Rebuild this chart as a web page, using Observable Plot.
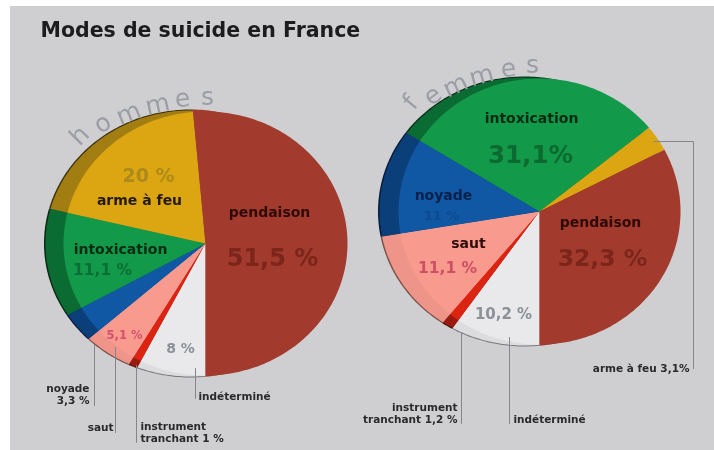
<!DOCTYPE html>
<html><head><meta charset="utf-8">
<script src="https://cdn.jsdelivr.net/npm/d3@7"></script>
<script src="https://cdn.jsdelivr.net/npm/@observablehq/plot@0.6"></script>
<style>html,body{margin:0;background:#fff}svg{display:block}</style>
</head><body><div id="chart"></div>
<script>
// Data, clockwise from the bottom of each pie
const modes = ["indéterminé","instrument","saut","noyade","intoxication","arme","pendaison"];
const hommes = [8,1,5.1,3.3,11.1,20,51.5];
const femmes = [10.2,1.2,11.1,11,31.1,3.1,32.3];
const faceColors = ["#e9e9ec","#dc2412","#f99a8e","#1058a4","#129a4a","#dca512","#a23b2e"];
const bandColors = ["#dcdcdf","#9a1a10","#ee9488","#0b3f7a","#0b6c33","#a27d12","#a23b2e"];
const edgeColors = ["#77797e","#4a120c","#7a5048","#0a1c3c","#092a16","#3c3010","#a23b2e"];

// Layout of the two tilted discs
const pies = [
  {name:"hommes", values:hommes, cx:205, cy:243, rx:142, ry:132, ox:190, oy:243, orx:145, ory:133},
  {name:"femmes", values:femmes, cx:539, cy:211, rx:141, ry:133, ox:524, oy:211, orx:145, ory:134}
];

function rayPoint(p, a, ox, oy, rx, ry){
  const dx=Math.sin(a), dy=-Math.cos(a), ex=p.cx-ox, ey=p.cy-oy;
  const A=dx*dx/(rx*rx)+dy*dy/(ry*ry), B=2*(ex*dx/(rx*rx)+ey*dy/(ry*ry)), C=ex*ex/(rx*rx)+ey*ey/(ry*ry)-1;
  const t=(-B+Math.sqrt(B*B-4*A*C))/(2*A);
  return [p.cx+t*dx, p.cy+t*dy];
}
function sliceRows(layer, colors, ell){
  const rows=[];
  for(const p of pies){
    const total=d3.sum(p.values); let acc=0;
    p.values.forEach((v,i)=>{
      const a0=Math.PI+acc/total*2*Math.PI; acc+=v;
      const a1=Math.PI+acc/total*2*Math.PI;
      const key=layer+p.name+modes[i];
      rows.push({key,x:p.cx,y:p.cy,c:colors[i]});
      const n=Math.max(2,Math.ceil((a1-a0)/0.02));
      for(let k=0;k<=n;k++){
        const [x,y]=ell(p,a0+(a1-a0)*k/n);
        rows.push({key,x,y,c:colors[i]});
      }
    });
  }
  return rows;
}
const edge=sliceRows("e",edgeColors,(p,a)=>rayPoint(p,a,p.ox,p.oy,p.orx+1.5,p.ory+1));
const band=sliceRows("b",bandColors,(p,a)=>rayPoint(p,a,p.ox,p.oy,p.orx,p.ory));
const face=sliceRows("f",faceColors,(p,a)=>rayPoint(p,a,p.cx,p.cy,p.rx,p.ry));

// Curved pie names
const arcLetters = [
  {t:"h",x:79,y:135,r:-45},{t:"o",x:102,y:123,r:-32},{t:"m",x:128,y:113,r:-22},
  {t:"m",x:157,y:104,r:-12},{t:"e",x:182,y:98,r:-5},{t:"s",x:207,y:96,r:0},
  {t:"f",x:410,y:102,r:-50},{t:"e",x:432,y:95,r:-36},{t:"m",x:455,y:85,r:-25},
  {t:"m",x:481,y:75,r:-15},{t:"e",x:508,y:68,r:-5},{t:"s",x:532,y:64,r:0}
];
// Labels: text, position, anchor, size, colour
const small="#2a2a2c";
const labels = [
  {t:"20 %",x:148,y:175,a:"middle",s:19,c:"#ad8a1c"},
  {t:"arme à feu",x:139,y:200,a:"middle",s:14,c:"#221a06"},
  {t:"pendaison",x:269,y:212,a:"middle",s:14,c:"#2e0a06"},
  {t:"51,5 %",x:272,y:258,a:"middle",s:24,c:"#7c251b"},
  {t:"intoxication",x:120,y:249,a:"middle",s:14,c:"#062a12"},
  {t:"11,1 %",x:102,y:270,a:"middle",s:15.5,c:"#0b6e35"},
  {t:"5,1 %",x:124,y:335,a:"middle",s:11.5,c:"#d0526e"},
  {t:"8 %",x:180,y:348,a:"middle",s:14,c:"#8b9198"},
  {t:"indéterminé",x:198,y:396,a:"start",s:10.5,c:small},
  {t:"noyade",x:89,y:388,a:"end",s:10.5,c:small},
  {t:"3,3 %",x:89,y:400,a:"end",s:10.5,c:small},
  {t:"saut",x:113,y:427,a:"end",s:10.5,c:small},
  {t:"instrument",x:140,y:426,a:"start",s:10.5,c:small},
  {t:"tranchant 1 %",x:140,y:438,a:"start",s:10.5,c:small},
  {t:"intoxication",x:531,y:118,a:"middle",s:14,c:"#062a12"},
  {t:"31,1%",x:530,y:155,a:"middle",s:24.5,c:"#0c6a30"},
  {t:"noyade",x:443,y:195,a:"middle",s:14,c:"#08204a"},
  {t:"11 %",x:441,y:215,a:"middle",s:13,c:"#0d4a92"},
  {t:"saut",x:468,y:243,a:"middle",s:14,c:"#2e0e0a"},
  {t:"11,1 %",x:447,y:268,a:"middle",s:15.5,c:"#cc5064"},
  {t:"pendaison",x:600,y:222,a:"middle",s:14,c:"#2e0a06"},
  {t:"32,3 %",x:602,y:258,a:"middle",s:23.5,c:"#7c251b"},
  {t:"10,2 %",x:503,y:314,a:"middle",s:15,c:"#8b9198"},
  {t:"arme à feu 3,1%",x:689,y:368,a:"end",s:10.5,c:small},
  {t:"instrument",x:457,y:407,a:"end",s:10.5,c:small},
  {t:"tranchant 1,2 %",x:457,y:419,a:"end",s:10.5,c:small},
  {t:"indéterminé",x:513,y:419,a:"start",s:10.5,c:small}
];
// Leader lines
const leaders = [
  {k:"a",x:94,y:345},{k:"a",x:94,y:405},
  {k:"b",x:115,y:347},{k:"b",x:115,y:432},
  {k:"c",x:136,y:365},{k:"c",x:136,y:442},
  {k:"d",x:195,y:368},{k:"d",x:195,y:398},
  {k:"e",x:653,y:141},{k:"e",x:693,y:141},{k:"e",x:693,y:368},
  {k:"f",x:461,y:333},{k:"f",x:461,y:423},
  {k:"g",x:509,y:337},{k:"g",x:509,y:423}
];
const ff="DejaVu Sans";
const textGroup=(a)=>Plot.text(labels.filter(d=>d.a===a),{x:"x",y:"y",text:"t",fill:"c",fontSize:"s",textAnchor:a,fontWeight:"bold",fontFamily:ff});

const plot=Plot.plot({
  width:714,height:450,margin:0,
  x:{domain:[0,714],range:[0,714],axis:null},
  y:{domain:[0,450],range:[0,450],axis:null},
  style:{filter:"blur(0.7px)",background:"#fff"},
  marks:[
    Plot.rect([{x1:10,x2:714,y1:6,y2:450}],{x1:"x1",x2:"x2",y1:"y1",y2:"y2",fill:"#cfcfd1"}),
    Plot.line(edge,{x:"x",y:"y",z:"key",fill:"c",stroke:null}),
    Plot.line(band,{x:"x",y:"y",z:"key",fill:"c",stroke:null}),
    Plot.line(face,{x:"x",y:"y",z:"key",fill:"c",stroke:null}),
    Plot.line(leaders,{x:"x",y:"y",z:"k",stroke:"#85868c",strokeWidth:1}),
    Plot.text(arcLetters,{x:"x",y:"y",text:"t",rotate:"r",fill:"#9c9ea6",fontSize:25,fontFamily:ff}),
    textGroup("middle"),textGroup("start"),textGroup("end"),
    Plot.text(["Modes de suicide en France"],{x:[40],y:[30],text:d=>d,textAnchor:"start",fontSize:20.5,fontWeight:"bold",fontFamily:ff,fill:"#1c1c1e"})
  ]
});
document.getElementById("chart").append(plot);
</script></body></html>
